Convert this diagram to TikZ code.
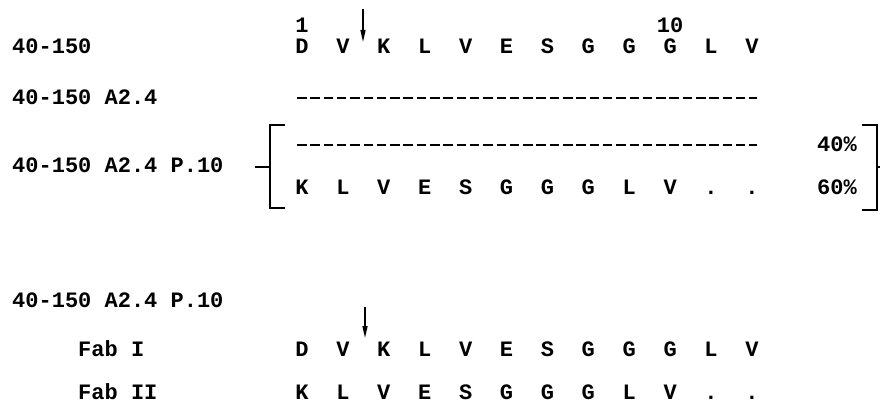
\documentclass[tikz,border=0pt]{standalone}
\usepackage{fontspec}
\setmonofont{Liberation Mono}
\usetikzlibrary{arrows.meta}

\tikzset{
  seqtext/.style={font=\ttfamily\bfseries\fontsize{22}{22}\selectfont, inner sep=0pt},
  samplename/.style={seqtext, anchor=base west},
  res/.style={seqtext, anchor=base},
  gaprow/.style={line width=2pt, dash pattern=on 9.5pt off 3.8pt},
  brack/.style={line width=1.6pt},
  cutsite/.style={line width=1.4pt, -{Triangle[length=12pt,width=5pt]}}
}

\begin{document}
\begin{tikzpicture}[x=1pt,y=-1pt]
  \useasboundingbox (0,0) rectangle (880,403);

  % sample names
  \node[samplename] (wt)    at (12,54)  {40-150};
  \node[samplename] (a24)   at (12,105) {40-150 A2.4};
  \node[samplename] (p10)   at (12,173) {40-150 A2.4 P.10};
  \node[samplename] (p10b)  at (12,307) {40-150 A2.4 P.10};
  \node[samplename] (fab1)  at (78,356) {Fab I};
  \node[samplename] (fab2)  at (78,399) {Fab II};

  % numbering
  \node[res] (num1)  at (302,33) {1};
  \node[res] (num10) at (302+40.9*9,33) {10};

  % sequences
  \foreach \r [count=\i from 0] in {D,V,K,L,V,E,S,G,G,G,L,V}
    \node[res] (wt-\i) at (302+40.9*\i,54) {\r};
  \foreach \r [count=\i from 0] in {K,L,V,E,S,G,G,G,L,V,.,.}
    \node[res] (p10-\i) at (302+40.9*\i,195) {\r};
  \foreach \r [count=\i from 0] in {D,V,K,L,V,E,S,G,G,G,L,V}
    \node[res] (fab1-\i) at (302+40.9*\i,356) {\r};
  \foreach \r [count=\i from 0] in {K,L,V,E,S,G,G,G,L,V,.,.}
    \node[res] (fab2-\i) at (302+40.9*\i,399) {\r};

  % identical to 40-150
  \coordinate (a24-s) at (297,98);
  \coordinate (a24-e) at (757,98);
  \draw[gaprow] (a24-s) -- (a24-e);
  \coordinate (p10-s) at (297,145);
  \coordinate (p10-e) at (757,145);
  \draw[gaprow] (p10-s) -- (p10-e);

  % fractions
  \node[res] (pc40) at (837,152) {40\%};
  \node[res] (pc60) at (837,195) {60\%};

  % brackets
  \draw[brack] (285,125) -- (270,125) -- (270,208) -- (285,208);
  \draw[brack] (255,167) -- (270,167);
  \draw[brack] (862,125) -- (877,125) -- (877,210) -- (862,210);
  \draw[brack] (877,167) -- (880,167);

  % cleavage sites
  \coordinate (cut1-a) at (363,9);
  \coordinate (cut1-b) at (363,42);
  \draw[cutsite] (cut1-a) -- (cut1-b);
  \coordinate (cut2-a) at (365,307);
  \coordinate (cut2-b) at (365,338);
  \draw[cutsite] (cut2-a) -- (cut2-b);
\end{tikzpicture}
\end{document}
